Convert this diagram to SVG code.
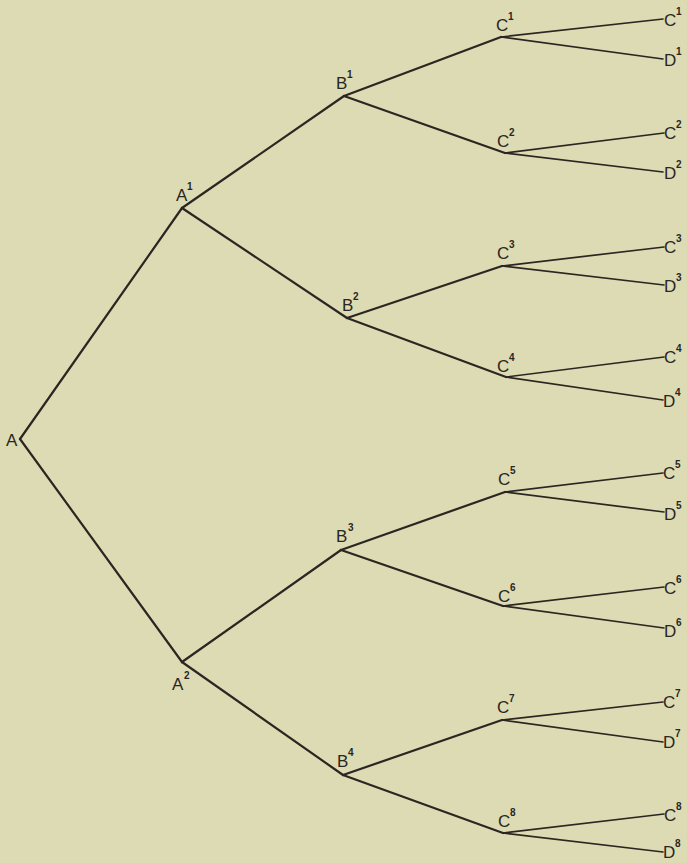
<svg xmlns="http://www.w3.org/2000/svg" width="687" height="863" viewBox="0 0 687 863">
<style>
.bg{fill:#dddbb3}
.e{stroke:#2a2622;stroke-width:2.2;fill:none;stroke-linecap:round}
.f{stroke:#2a2622;stroke-width:1.7;fill:none;stroke-linecap:round}
text{font-family:"Liberation Sans",Arial,sans-serif;fill:#2a2622}
.l{font-size:17px}
.s{font-size:10px;font-weight:bold}
</style>
<rect class="bg" x="0" y="0" width="687" height="863"/>
<g id="connectors">
<line class="e" x1="20" y1="439" x2="182" y2="208"/>
<line class="e" x1="20" y1="439" x2="182" y2="662"/>
<line class="e" x1="182" y1="208" x2="344" y2="96"/>
<line class="e" x1="182" y1="208" x2="347" y2="318"/>
<line class="e" x1="182" y1="662" x2="341" y2="550"/>
<line class="e" x1="182" y1="662" x2="343" y2="775"/>
<line class="e" x1="344" y1="96" x2="501" y2="37"/>
<line class="e" x1="344" y1="96" x2="505" y2="153"/>
<line class="e" x1="347" y1="318" x2="502" y2="266"/>
<line class="e" x1="347" y1="318" x2="506" y2="377"/>
<line class="e" x1="341" y1="550" x2="505" y2="492"/>
<line class="e" x1="341" y1="550" x2="503" y2="606"/>
<line class="e" x1="343" y1="775" x2="502" y2="720"/>
<line class="e" x1="343" y1="775" x2="503" y2="833"/>
<line class="f" x1="501" y1="37" x2="663" y2="19"/>
<line class="f" x1="501" y1="37" x2="663" y2="59"/>
<line class="f" x1="505" y1="153" x2="664" y2="133"/>
<line class="f" x1="505" y1="153" x2="663" y2="172"/>
<line class="f" x1="502" y1="266" x2="664" y2="247"/>
<line class="f" x1="502" y1="266" x2="664" y2="285"/>
<line class="f" x1="506" y1="377" x2="664" y2="357"/>
<line class="f" x1="506" y1="377" x2="663" y2="400"/>
<line class="f" x1="505" y1="492" x2="663" y2="473"/>
<line class="f" x1="505" y1="492" x2="664" y2="512"/>
<line class="f" x1="503" y1="606" x2="664" y2="587"/>
<line class="f" x1="503" y1="606" x2="664" y2="628"/>
<line class="f" x1="502" y1="720" x2="663" y2="702"/>
<line class="f" x1="502" y1="720" x2="663" y2="742"/>
<line class="f" x1="503" y1="833" x2="664" y2="814"/>
<line class="f" x1="503" y1="833" x2="663" y2="852"/>
</g>
<g id="A"><text class="l" x="6" y="446">A</text></g>
<g id="A1"><text class="l" x="176" y="201">A</text><text class="s" x="187" y="190">1</text></g>
<g id="A2"><text class="l" x="172" y="690">A</text><text class="s" x="184" y="679">2</text></g>
<g id="B1"><text class="l" x="336" y="89">B</text><text class="s" x="347" y="78">1</text></g>
<g id="B2"><text class="l" x="342" y="311">B</text><text class="s" x="353" y="300">2</text></g>
<g id="B3"><text class="l" x="336" y="542">B</text><text class="s" x="348" y="531">3</text></g>
<g id="B4"><text class="l" x="337" y="767">B</text><text class="s" x="348" y="756">4</text></g>
<g id="C1"><text class="l" x="496" y="31">C</text><text class="s" x="508" y="20">1</text></g>
<g id="C2"><text class="l" x="497" y="147">C</text><text class="s" x="509" y="136">2</text></g>
<g id="C3"><text class="l" x="497" y="259">C</text><text class="s" x="509" y="248">3</text></g>
<g id="C4"><text class="l" x="497" y="372">C</text><text class="s" x="509" y="361">4</text></g>
<g id="C5"><text class="l" x="498" y="485">C</text><text class="s" x="510" y="474">5</text></g>
<g id="C6"><text class="l" x="498" y="602">C</text><text class="s" x="510" y="591">6</text></g>
<g id="C7"><text class="l" x="497" y="713">C</text><text class="s" x="509" y="702">7</text></g>
<g id="C8"><text class="l" x="498" y="827">C</text><text class="s" x="510" y="816">8</text></g>
<g id="C1r"><text class="l" x="664" y="26">C</text><text class="s" x="676" y="15">1</text></g>
<g id="D1"><text class="l" x="664" y="66">D</text><text class="s" x="676" y="55">1</text></g>
<g id="C2r"><text class="l" x="664" y="139">C</text><text class="s" x="676" y="128">2</text></g>
<g id="D2"><text class="l" x="664" y="179">D</text><text class="s" x="676" y="168">2</text></g>
<g id="C3r"><text class="l" x="664" y="253">C</text><text class="s" x="676" y="242">3</text></g>
<g id="D3"><text class="l" x="664" y="292">D</text><text class="s" x="676" y="281">3</text></g>
<g id="C4r"><text class="l" x="664" y="363">C</text><text class="s" x="676" y="352">4</text></g>
<g id="D4"><text class="l" x="663" y="407">D</text><text class="s" x="675" y="396">4</text></g>
<g id="C5r"><text class="l" x="663" y="479">C</text><text class="s" x="675" y="468">5</text></g>
<g id="D5"><text class="l" x="664" y="520">D</text><text class="s" x="676" y="509">5</text></g>
<g id="C6r"><text class="l" x="664" y="594">C</text><text class="s" x="676" y="583">6</text></g>
<g id="D6"><text class="l" x="664" y="637">D</text><text class="s" x="676" y="626">6</text></g>
<g id="C7r"><text class="l" x="663" y="708">C</text><text class="s" x="675" y="697">7</text></g>
<g id="D7"><text class="l" x="663" y="748">D</text><text class="s" x="675" y="737">7</text></g>
<g id="C8r"><text class="l" x="664" y="821">C</text><text class="s" x="676" y="810">8</text></g>
<g id="D8"><text class="l" x="663" y="858">D</text><text class="s" x="675" y="847">8</text></g>
</svg>
